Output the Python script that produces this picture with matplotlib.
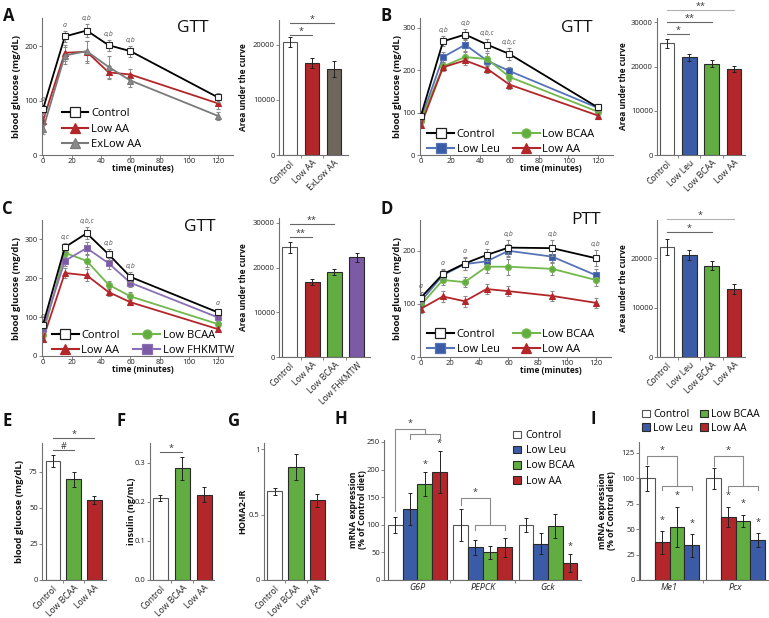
import numpy as np
import matplotlib
matplotlib.use('Agg')
import matplotlib.pyplot as plt
from matplotlib.lines import Line2D
from matplotlib.patches import Patch

# ---------------- data ----------------
gtt_time = [0, 15, 30, 45, 60, 120]
ptt_time = [0, 15, 30, 45, 60, 90, 120]
time_ticks = [0, 20, 40, 60, 80, 100, 120]

# Panel A (GTT)
A_control = [84, 218, 229, 202, 191, 106]
A_control_err = [8, 10, 12, 10, 10, 8]
A_lowaa = [63, 188, 190, 152, 148, 95]
A_lowaa_err = [8, 15, 20, 12, 10, 10]
A_exlow = [47, 183, 191, 162, 137, 72]
A_exlow_err = [8, 15, 18, 20, 12, 8]
A_annot = ['a', 'a', 'a,b', 'a,b', 'a,b', '']
A_auc_labels = ['Control', 'Low AA', 'ExLow AA']
A_auc = [20500, 16700, 15600]
A_auc_err = [900, 900, 1500]

# Panel B (GTT)
B_control = [93, 268, 284, 260, 238, 112]
B_control_err = [8, 12, 12, 14, 15, 8]
B_lowleu = [85, 231, 260, 222, 198, 111]
B_lowleu_err = [8, 12, 14, 12, 10, 8]
B_lowbcaa = [81, 209, 231, 226, 184, 102]
B_lowbcaa_err = [8, 10, 12, 14, 10, 8]
B_lowaa = [71, 207, 223, 203, 166, 93]
B_lowaa_err = [8, 10, 10, 10, 10, 8]
B_annot = ['', 'a,b', 'a,b', 'a,b,c', 'a,b,c', '']
B_auc_labels = ['Control', 'Low Leu', 'Low BCAA', 'Low AA']
B_auc = [25250, 22100, 20700, 19400]
B_auc_err = [1100, 800, 700, 700]

# Panel C (GTT)
C_control = [80, 279, 315, 261, 203, 112]
C_control_err = [8, 12, 15, 14, 12, 8]
C_lowbcaa = [54, 265, 244, 183, 153, 82]
C_lowbcaa_err = [8, 12, 15, 10, 10, 8]
C_lowaa = [43, 213, 207, 164, 138, 69]
C_lowaa_err = [8, 12, 15, 10, 8, 6]
C_lowfhk = [69, 244, 277, 238, 188, 99]
C_lowfhk_err = [8, 12, 15, 14, 12, 8]
C_annot = ['a', 'a,c', 'a,b,c', 'a,b', 'a,b', 'a']
C_auc_labels = ['Control', 'Low AA', 'Low BCAA', 'Low FHKMTW']
C_auc = [24500, 16800, 19100, 22300]
C_auc_err = [1200, 700, 700, 1000]

# Panel D (PTT)
D_control = [112, 156, 176, 192, 206, 205, 186]
D_control_err = [10, 10, 12, 12, 15, 15, 15]
D_lowleu = [105, 154, 175, 180, 200, 189, 154]
D_lowleu_err = [10, 10, 12, 12, 12, 12, 12]
D_lowbcaa = [98, 145, 141, 170, 170, 166, 145]
D_lowbcaa_err = [10, 10, 10, 12, 15, 12, 12]
D_lowaa = [91, 114, 105, 128, 124, 115, 102]
D_lowaa_err = [8, 10, 10, 10, 10, 10, 10]
D_annot = ['a', 'a', 'a', 'a', 'a,b', 'a,b', 'a,b']
D_auc_labels = ['Control', 'Low Leu', 'Low BCAA', 'Low AA']
D_auc = [22200, 20700, 18500, 13700]
D_auc_err = [1600, 1000, 1000, 1000]

# Panels E, F, G
EFG_labels = ['Control', 'Low BCAA', 'Low AA']
E_glucose = [82.6, 69.7, 55.4]
E_glucose_err = [4, 5, 3]
F_insulin = [0.211, 0.286, 0.219]
F_insulin_err = [0.008, 0.03, 0.02]
G_homa = [0.676, 0.862, 0.607]
G_homa_err = [0.025, 0.1, 0.05]

# Panel H (mRNA)
H_genes = ['G6P', 'PEPCK', 'Gck']
H_control = [100, 100, 100]
H_control_err = [15, 29, 13]
H_lowleu = [128, 59, 66]
H_lowleu_err = [29, 13, 19]
H_lowbcaa = [174, 50, 98]
H_lowbcaa_err = [22, 12, 22]
H_lowaa = [196, 59, 31]
H_lowaa_err = [38, 17, 16]

# Panel I (mRNA)
I_genes = ['Me1', 'Pcx']
I_control = [100, 100]
I_control_err = [12, 10]
I_lowaa = [37, 62]
I_lowaa_err = [11, 10]
I_lowbcaa = [52, 58]
I_lowbcaa_err = [20, 6]
I_lowleu = [34, 39]
I_lowleu_err = [11, 7]

# ---------------- style ----------------
W, H = 769, 618
plt.rcParams['font.family'] = ['Open Sans', 'DejaVu Sans']
plt.rcParams['axes.linewidth'] = 0.8
fig = plt.figure(figsize=(W / 100, H / 100), dpi=100)

COL = {
    'Control': 'white', 'Low AA': '#b3262a', 'ExLow AA': '#6f665c',
    'Low Leu': '#3c5ba6', 'Low BCAA': '#62ad41', 'Low FHKMTW': '#7c5aa6',
}
LINECOL = {
    'Control': 'black', 'Low AA': '#b3262a', 'ExLow AA': '#7a7a7a',
    'Low Leu': '#5673b8', 'Low BCAA': '#72b84c', 'Low FHKMTW': '#8a6fb5',
}
MFC = {
    'Control': 'white', 'Low AA': '#b3262a', 'ExLow AA': '#8a8a8a',
    'Low Leu': '#3c5ba6', 'Low BCAA': '#62ad41', 'Low FHKMTW': '#7c5aa6',
}
MARK = {
    'Control': 's', 'Low AA': '^', 'ExLow AA': '^',
    'Low Leu': 's', 'Low BCAA': 'o', 'Low FHKMTW': 's',
}
SPINE = '#707070'


def box(l, t, r, b):
    return [l / W, 1 - b / H, (r - l) / W, (b - t) / H]


def ftext(x, y, s, **kw):
    fig.text(x / W, 1 - y / H, s, **kw)


def style_ax(ax):
    for s in ['top', 'right']:
        ax.spines[s].set_visible(False)
    for s in ['left', 'bottom']:
        ax.spines[s].set_color(SPINE)
    ax.tick_params(labelsize=5.5, length=2, width=0.6, pad=1, color=SPINE,
                   labelcolor='#222')


def ylab(ax, text, px, pos, size=6):
    ax.set_ylabel(text, fontsize=size, fontweight='bold', color='#111')
    ax.yaxis.set_label_coords((px - pos[0]) / (pos[2] - pos[0]), 0.5)
    ax.yaxis.label.set_va('center')


def xlab(ax, text, px, py, pos, size=6):
    ax.set_xlabel(text, fontsize=size, fontweight='bold', color='#111')
    ax.xaxis.set_label_coords((px - pos[0]) / (pos[2] - pos[0]),
                              (pos[3] - py) / (pos[3] - pos[1]))
    ax.xaxis.label.set_va('center')


def line_panel(pos, t, series, annot, ylim, yticks, title, title_xy,
               leg_ncol, leg_order, leg_anchor, ylab_px, xlab_xy):
    ax = fig.add_axes(box(*pos))
    style_ax(ax)
    ax.tick_params(axis='x', pad=0.5)
    for name, vals, errs in series:
        ax.errorbar(t, vals, yerr=errs, color=LINECOL[name], lw=1.3,
                    marker=MARK[name], ms=4.3, mfc=MFC[name],
                    mec='#222' if name == 'Control' else LINECOL[name],
                    mew=0.8, ecolor='#8a8a8a', elinewidth=0.7, capsize=1.3,
                    capthick=0.7, zorder=3 if name == 'Control' else 2)
    ctrl_vals, ctrl_err = series[0][1], series[0][2]
    for ti, v, e, a in zip(t, ctrl_vals, ctrl_err, annot):
        if a:
            ax.annotate(a, (ti, v + e), xytext=(0, 1.5), textcoords='offset points',
                        ha='center', va='bottom', fontsize=5, style='italic',
                        color='#555')
    ax.set_xlim(-1, 130)
    ax.set_ylim(*ylim)
    ax.set_xticks(time_ticks)
    ax.set_yticks(yticks)
    ylab(ax, 'blood glucose (mg/dL)', ylab_px, pos, size=6.8)
    xlab(ax, 'time (minutes)', xlab_xy[0], xlab_xy[1], pos)
    ftext(title_xy[0], title_xy[1], title, fontsize=12.5, ha='center', va='center',
          color='#111')
    handles = []
    for name in leg_order:
        handles.append(Line2D([], [], color=LINECOL[name], lw=1.5, marker=MARK[name],
                              ms=6.5, mfc=MFC[name],
                              mec='#222' if name == 'Control' else LINECOL[name],
                              mew=0.9, label=name))
    ax.legend(handles=handles, ncol=leg_ncol, loc='lower left',
              bbox_to_anchor=leg_anchor, frameon=False, fontsize=8,
              handlelength=2.4, handletextpad=0.25, columnspacing=1.2,
              labelspacing=0.4, borderpad=0, borderaxespad=0)
    return ax


def bar_panel(pos, labels, vals, errs, xlim, ylim, yticks, width, ylabel, ylab_px,
              sigs, ylabel_size=6):
    ax = fig.add_axes(box(*pos))
    style_ax(ax)
    x = np.arange(len(vals))
    cols = [COL[l] for l in labels]
    edges = ['#555' if l == 'Control' else '#2a2a2a' for l in labels]
    ax.bar(x, vals, width, color=cols, edgecolor=edges, lw=0.8, zorder=2)
    ax.errorbar(x, vals, yerr=errs, fmt='none', ecolor='#222', elinewidth=0.7,
                capsize=1.5, capthick=0.7, zorder=3)
    ax.set_xlim(*xlim)
    ax.set_ylim(*ylim)
    ax.set_yticks(yticks)
    ax.set_xticks(x)
    ax.set_xticklabels(labels, rotation=45, ha='right', rotation_mode='anchor',
                       fontsize=6.2)
    ax.tick_params(axis='x', length=0, pad=2.5)
    ax.set_xticks(x[:-1] + 0.5, minor=True)
    ax.tick_params(axis='x', which='minor', length=2, width=0.6, color=SPINE)
    ylab(ax, ylabel, ylab_px, pos, size=ylabel_size)
    for i, j, y, txt, c in sigs:
        ax.plot([i, j], [y, y], color=c, lw=0.8, clip_on=False)
        ax.annotate(txt, ((i + j) / 2, y), xytext=(0, 2.5), textcoords='offset points',
                    ha='center', va='center', fontsize=6.5, color='#333',
                    annotation_clip=False)
    return ax


# ---------------- panel A ----------------
posA = (41.5, 18, 232.5, 155)
line_panel(posA, gtt_time,
           [('Control', A_control, A_control_err),
            ('Low AA', A_lowaa, A_lowaa_err),
            ('ExLow AA', A_exlow, A_exlow_err)],
           A_annot, (0, 252), [0, 100, 200], 'GTT', (193, 28),
           1, ['Control', 'Low AA', 'ExLow AA'], (0.105, 0.035), 17, (143, 168.5))
posAb = (279, 20, 348, 155)
bar_panel(posAb, A_auc_labels, A_auc, A_auc_err, (-0.5, 2.64), (0, 24545),
          [0, 10000, 20000], 0.66, 'Area under the curve', 243,
          [(0, 1, 21800, '*', '#666'), (0, 2, 24000, '*', '#666')])

# ---------------- panel B ----------------
posB = (419.5, 18, 612.7, 155)
line_panel(posB, gtt_time,
           [('Control', B_control, B_control_err),
            ('Low Leu', B_lowleu, B_lowleu_err),
            ('Low BCAA', B_lowbcaa, B_lowbcaa_err),
            ('Low AA', B_lowaa, B_lowaa_err)],
           B_annot, (0, 323), [0, 100, 200, 300], 'GTT', (577, 28),
           2, ['Control', 'Low Leu', 'Low BCAA', 'Low AA'], (0.04, 0.0), 397, (551, 168.5))
posBb = (657, 18, 745, 155)
bar_panel(posBb, B_auc_labels, B_auc, B_auc_err, (-0.45, 3.5), (0, 31000),
          [0, 10000, 20000, 30000], 0.65, 'Area under the curve', 623,
          [(0, 1, 27360, '*', '#666'), (0, 2, 30070, '**', '#666'),
           (0, 3, 32780, '**', '#b0b0b0')])

# ---------------- panel C ----------------
posC = (41.5, 220, 232.5, 356)
line_panel(posC, gtt_time,
           [('Control', C_control, C_control_err),
            ('Low BCAA', C_lowbcaa, C_lowbcaa_err),
            ('Low AA', C_lowaa, C_lowaa_err),
            ('Low FHKMTW', C_lowfhk, C_lowfhk_err)],
           C_annot, (0, 349), [0, 100, 200, 300], 'GTT', (200, 227),
           2, ['Control', 'Low AA', 'Low BCAA', 'Low FHKMTW'], (0.055, 0.0), 17,
           (143, 370))
posCb = (279, 218, 370, 357)
bar_panel(posCb, C_auc_labels, C_auc, C_auc_err, (-0.47, 3.58), (0, 31100),
          [0, 10000, 20000, 30000], 0.67, 'Area under the curve', 243,
          [(0, 1, 26860, '**', '#666'), (0, 2, 29770, '**', '#666')])

# ---------------- panel D ----------------
posD = (419.5, 220, 610.5, 357)
line_panel(posD, ptt_time,
           [('Control', D_control, D_control_err),
            ('Low Leu', D_lowleu, D_lowleu_err),
            ('Low BCAA', D_lowbcaa, D_lowbcaa_err),
            ('Low AA', D_lowaa, D_lowaa_err)],
           D_annot, (0, 258), [0, 100, 200], 'PTT', (586, 220),
           2, ['Control', 'Low Leu', 'Low BCAA', 'Low AA'], (0.04, 0.015), 397,
           (551, 370.5))
posDb = (657, 220, 745, 357)
bar_panel(posDb, D_auc_labels, D_auc, D_auc_err, (-0.45, 3.5), (0, 27700),
          [0, 10000, 20000], 0.65, 'Area under the curve', 623,
          [(0, 2, 25250, '*', '#666'), (0, 3, 27880, '*', '#b0b0b0')])

# ---------------- panels E F G ----------------
posE = (42, 443, 106, 580)
bar_panel(posE, EFG_labels, E_glucose, E_glucose_err, (-0.53, 2.56), (0, 95),
          [0, 25, 50, 75], 0.7, 'blood glucose (mg/dL)', 20,
          [(0, 1, 90.3, '#', '#666'), (0, 2, 98.6, '*', '#666')], ylabel_size=6.8)
posF = (150, 443, 214, 580)
bar_panel(posF, EFG_labels, F_insulin, F_insulin_err, (-0.48, 2.45), (0, 0.351),
          [0, 0.1, 0.2, 0.3], 0.68, 'insulin (ng/mL)', 131,
          [(0, 1, 0.328, '*', '#666')], ylabel_size=6.5)
posG = (264, 443, 328, 580)
axG = bar_panel(posG, EFG_labels, G_homa, G_homa_err, (-0.49, 2.49), (0, 1.046),
                [0, 0.5, 1], 0.7, 'HOMA2-IR', 243, [], ylabel_size=6.5)
axG.set_yticklabels(['0', '0.5', '1'])


# ---------------- grouped bars ----------------
def grouped_panel(pos, genes, series, xlim, ylim, yticks, bw, ylab_px, star_off):
    ax = fig.add_axes(box(*pos))
    style_ax(ax)
    xc = np.arange(len(genes))
    n = len(series)
    for k, (name, vals, errs, stars) in enumerate(series):
        xs = xc + (k - (n - 1) / 2) * bw
        ax.bar(xs, vals, bw, color=COL[name],
               edgecolor='#555' if name == 'Control' else '#2a2a2a', lw=0.8, zorder=2)
        ax.errorbar(xs, vals, yerr=errs, fmt='none', ecolor='#222', elinewidth=0.7,
                    capsize=1.5, capthick=0.7, zorder=3)
        for xi, v, e, s in zip(xs, vals, errs, stars):
            if s:
                ax.annotate('*', (xi, v + e), xytext=(0, star_off),
                            textcoords='offset points', ha='center', va='center',
                            fontsize=6.5, color='#333')
    ax.set_xlim(*xlim)
    ax.set_ylim(*ylim)
    ax.set_yticks(yticks)
    ax.set_xticks(xc)
    ax.set_xticklabels(genes, style='italic', fontsize=6.5)
    ax.tick_params(axis='x', length=0, pad=2.5)
    ax.set_xticks(xc[:-1] + 0.5, minor=True)
    ax.tick_params(axis='x', which='minor', length=2, width=0.6, color=SPINE)
    ylab(ax, 'mRNA expression\n(% of Control diet)', ylab_px, pos, size=6.3)
    ax.yaxis.label.set_linespacing(0.95)
    return ax


def bracket(ax, c, bw, y0, ytop, y2, drop):
    ctrl = c - 1.5 * bw
    a, b = c - 0.5 * bw, c + 1.5 * bw
    mid = (a + b) / 2
    kw = dict(color='#8a8a8a', lw=0.8, clip_on=False)
    ax.plot([ctrl, ctrl, mid, mid], [y0, ytop, ytop, y2], **kw)
    ax.plot([a, a, b, b], [y2 - drop, y2, y2, y2 - drop], **kw)
    ax.annotate('*', ((ctrl + mid) / 2, ytop), xytext=(0, 4), textcoords='offset points',
                ha='center', va='center', fontsize=6.5, color='#333',
                annotation_clip=False)


posH = (384, 440, 581, 580)
bwH = 0.225
axH = grouped_panel(posH, H_genes,
                    [('Control', H_control, H_control_err, ['', '', '']),
                     ('Low Leu', H_lowleu, H_lowleu_err, ['', '', '']),
                     ('Low BCAA', H_lowbcaa, H_lowbcaa_err, ['*', '', '']),
                     ('Low AA', H_lowaa, H_lowaa_err, ['*', '', '*'])],
                    (-0.513, 2.504), (0, 253.6), [0, 50, 100, 150, 200, 250], bwH, 358, 5.5)
bracket(axH, 0, bwH, 125, 273, 264, 9)
bracket(axH, 1, bwH, 135, 148, 100, 9)

posI = (639, 442, 768, 580)
bwI = 0.223
axI = grouped_panel(posI, I_genes,
                    [('Control', I_control, I_control_err, ['', '']),
                     ('Low AA', I_lowaa, I_lowaa_err, ['*', '*']),
                     ('Low BCAA', I_lowbcaa, I_lowbcaa_err, ['*', '*']),
                     ('Low Leu', I_lowleu, I_lowleu_err, ['*', '*'])],
                    (-0.462, 1.49), (0, 135.8), [0, 25, 50, 75, 100, 125], bwI, 607, 8)
bracket(axI, 0, bwI, 114, 122, 92.5, 4)
bracket(axI, 1, bwI, 112, 122, 92.5, 4)


def sq(name):
    return Patch(facecolor=COL[name], edgecolor='#555' if name == 'Control' else '#2a2a2a',
                 lw=0.8, label=name)


fig.legend(handles=[sq(n) for n in ['Control', 'Low Leu', 'Low BCAA', 'Low AA']],
           loc='upper left', bbox_to_anchor=(513 / W, 1 - 430 / H), frameon=False,
           fontsize=7.5, handlelength=0.75, handleheight=0.75, handletextpad=0.45,
           labelspacing=0.4, borderpad=0, borderaxespad=0)
fig.legend(handles=[sq(n) for n in ['Control', 'Low Leu', 'Low BCAA', 'Low AA']],
           ncol=2, loc='upper left', bbox_to_anchor=(642 / W, 1 - 409 / H), frameon=False,
           fontsize=7.5, handlelength=0.75, handleheight=0.75, handletextpad=0.35,
           labelspacing=0.25, columnspacing=0.6, borderpad=0, borderaxespad=0)

# ---------------- panel letters ----------------
for lab, x, y in [('A', 3, 7), ('B', 381, 7), ('C', 2, 200), ('D', 380, 200),
                  ('E', 2, 412), ('F', 117, 412), ('G', 228, 412), ('H', 335, 410),
                  ('I', 591, 410)]:
    ftext(x, y, lab, fontsize=12, fontweight='bold', ha='left', va='top', color='#111')

fig.savefig('out.png', dpi=100)
